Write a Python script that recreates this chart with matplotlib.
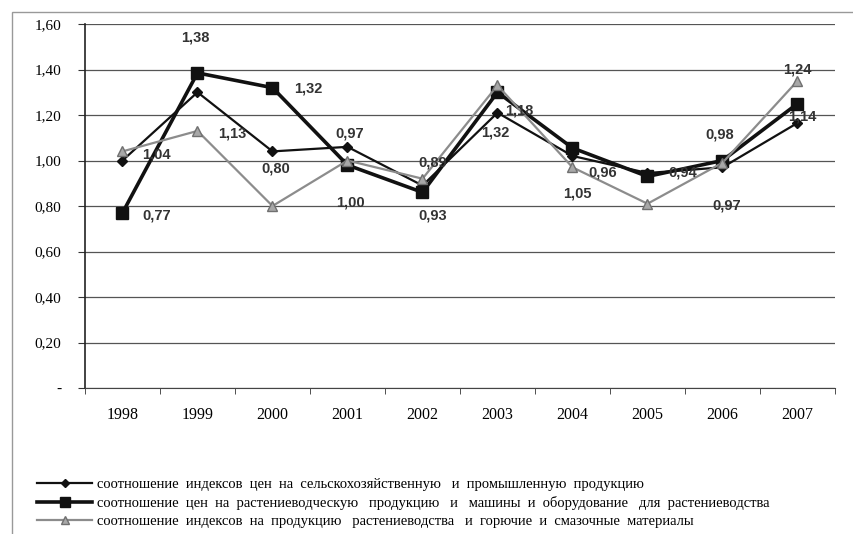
"""
Соотношение индексов цен, 1998-2007
"""
import matplotlib
matplotlib.use('Agg')
import matplotlib.pyplot as plt
from matplotlib.patches import Rectangle
from matplotlib.ticker import FixedLocator, FuncFormatter

years = ['1998', '1999', '2000', '2001', '2002', '2003', '2004', '2005', '2006', '2007']

# соотношение индексов цен на с/х и промышленную продукцию
agro_vs_industry = [1.00, 1.30, 1.04, 1.06, 0.89, 1.21, 1.02, 0.945, 0.97, 1.165]
# соотношение цен на растениеводческую продукцию и машины
crops_vs_machines = [0.77, 1.385, 1.32, 0.98, 0.86, 1.30, 1.055, 0.93, 1.00, 1.25]
# соотношение индексов на продукцию растениеводства и ГСМ
crops_vs_fuel = [1.04, 1.13, 0.80, 1.00, 0.92, 1.33, 0.97, 0.81, 0.99, 1.35]

legend_labels = [
    'соотношение  индексов  цен  на  сельскохозяйственную   и  промышленную  продукцию',
    'соотношение  цен  на  растениеводческую   продукцию   и   машины  и  оборудование   для  растениеводства',
    'соотношение  индексов  на  продукцию   растениеводства   и  горючие  и  смазочные  материалы',
]

# data labels as printed in the source: (series, year index, text)
point_labels = [
    ('sq', 1, '1,38'), ('sq', 2, '1,32'), ('sq', 0, '0,77'),
    ('tr', 0, '1,04'), ('tr', 1, '1,13'), ('di', 2, '0,80'),
    ('di', 3, '0,97'), ('tr', 3, '1,00'), ('sq', 4, '0,93'),
    ('sq', 4, '0,89'), ('di', 5, '1,32'), ('di', 5, '1,18'),
    ('tr', 6, '1,05'), ('tr', 6, '0,96'), ('sq', 7, '0,94'),
    ('sq', 8, '0,98'), ('sq', 8, '0,97'), ('tr', 9, '1,24'),
    ('di', 9, '1,14'),
]
# offsets of the labels in pixels (dx, dy up)
label_offsets = [
    (-2, 35), (36, -1), (34, -3),
    (34, -3), (35, -3), (3, -17),
    (2, 13), (3, -42), (10, -23),
    (10, 30), (-2, -20), (22, 2),
    (5, -26), (30, -5), (35, 4),
    (-3, 26), (4, -45), (0, 11),
    (5, 6),
]

serif = 'Liberation Serif'

fig = plt.figure(figsize=(8.54, 5.34), dpi=100)
ax = fig.add_axes([85 / 854, 1 - 388 / 534, 750 / 854, 364 / 534])

x = list(range(len(years)))
l_di, = ax.plot(x, agro_vs_industry, color='#111111', lw=1.6, marker='D', ms=5,
                mfc='#111111', mec='#111111', zorder=4)
l_sq, = ax.plot(x, crops_vs_machines, color='#111111', lw=2.6, marker='s', ms=9,
                mfc='#111111', mec='#111111', zorder=3)
l_tr, = ax.plot(x, crops_vs_fuel, color='#8c8c8c', lw=1.6, marker='^', ms=7,
                mfc='#a8a8a8', mec='#707070', zorder=5)

series = {'di': agro_vs_industry, 'sq': crops_vs_machines, 'tr': crops_vs_fuel}
for (key, i, txt), (dx, dy) in zip(point_labels, label_offsets):
    ax.annotate(txt, (i, series[key][i]), xytext=(dx * 0.72, dy * 0.72),
                textcoords='offset points', ha='center', va='center',
                fontsize=10.5, fontweight='bold', family='Liberation Sans',
                color='#333333', zorder=6)

ax.set_xlim(-0.5, 9.5)
ax.set_ylim(0, 1.6)
ax.set_yticks([0, 0.2, 0.4, 0.6, 0.8, 1.0, 1.2, 1.4, 1.6])
ax.yaxis.set_major_formatter(FuncFormatter(
    lambda v, p: '-' if v == 0 else f'{v:.2f}'.replace('.', ',')))
ax.set_xticks(x)
ax.set_xticklabels(years)
ax.xaxis.set_minor_locator(FixedLocator([i - 0.5 for i in range(len(years) + 1)]))
ax.tick_params(axis='x', which='major', length=0, pad=14, labelsize=11.5)
ax.tick_params(axis='x', which='minor', length=4, direction='out', color='#333333')
ax.tick_params(axis='y', length=5, color='#333333', pad=12, labelsize=11)
for lab in ax.get_xticklabels() + ax.get_yticklabels():
    lab.set_family(serif)

ax.grid(axis='y', color='#555555', lw=0.9)
ax.set_axisbelow(True)
for side in ['top', 'right']:
    ax.spines[side].set_visible(False)
ax.spines['left'].set_color('#222222')
ax.spines['left'].set_linewidth(1.2)
ax.spines['bottom'].set_color('#444444')

# outer frame of the picture
fig.add_artist(Rectangle((12 / 854, -0.1), 1.2, (534 - 12) / 534 + 0.1,
                         transform=fig.transFigure, fill=False,
                         edgecolor='#999999', lw=1, clip_on=False))

fig.legend([l_di, l_sq, l_tr], legend_labels, loc='upper left',
           bbox_to_anchor=(37 / 854, 1 - 478 / 534), frameon=False,
           prop={'family': serif, 'size': 10.5}, handlelength=3.8,
           handletextpad=0.3, labelspacing=0.33, borderpad=0, borderaxespad=0,
           markerscale=0.8)

plt.savefig('out.png', dpi=100)
plt.close()
